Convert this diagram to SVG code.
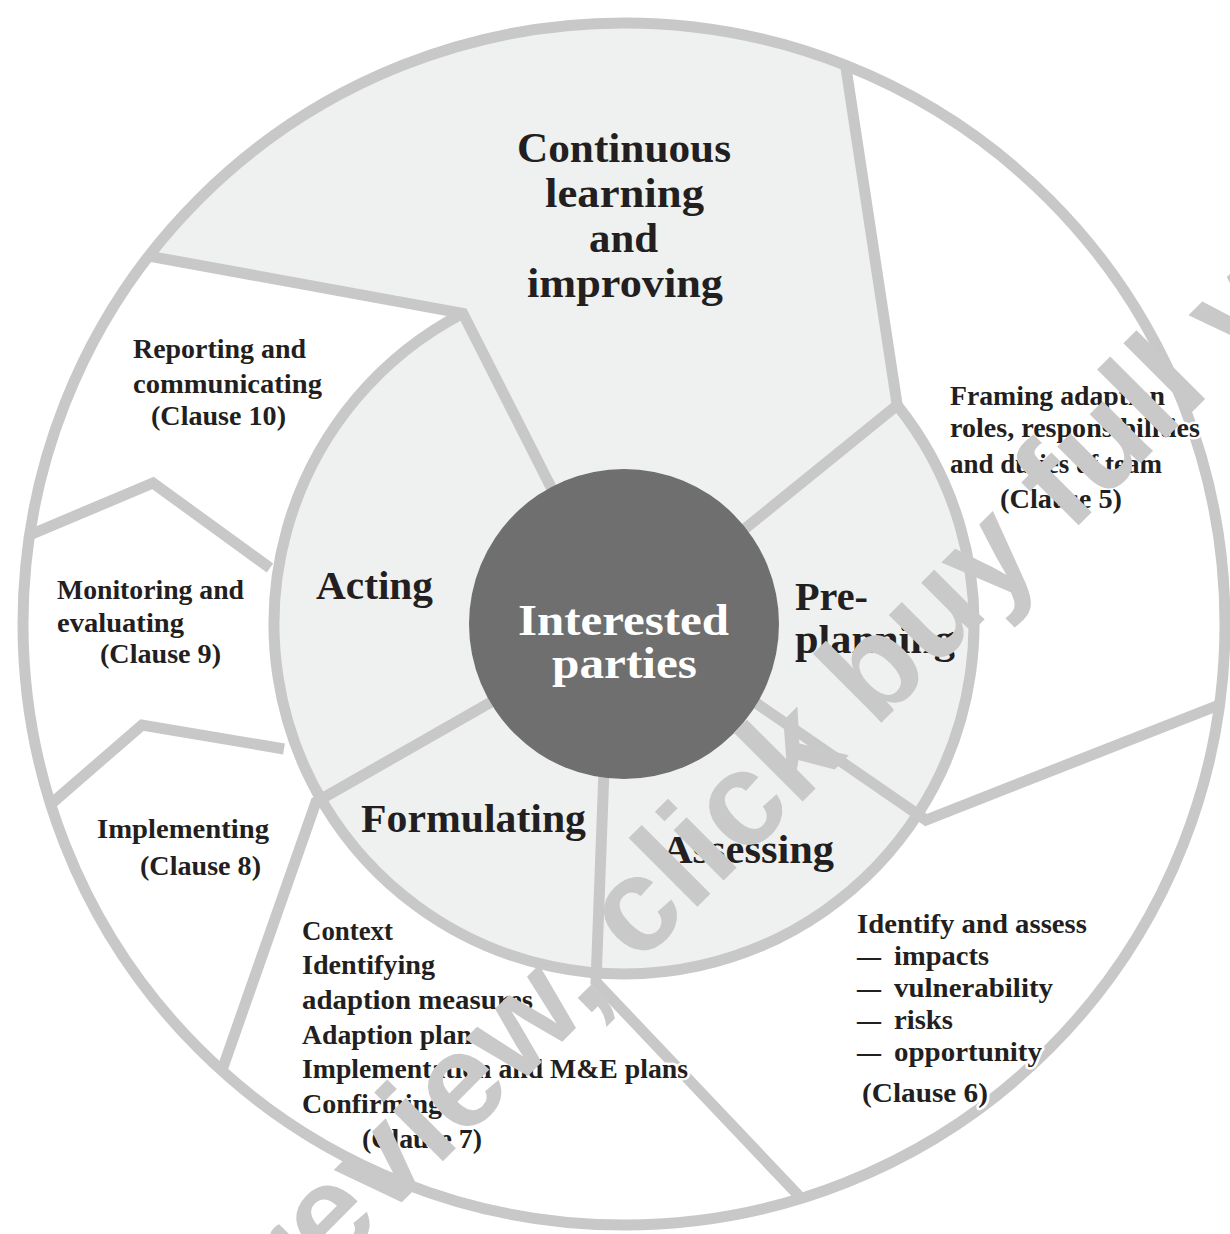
<svg xmlns="http://www.w3.org/2000/svg" width="1230" height="1234" viewBox="0 0 1230 1234">
  <defs>
    <style>
      .ln { fill: none; stroke: #c8c8c8; stroke-width: 11; stroke-linejoin: miter; }
      .fillL { fill: #eff1f0; }
      .big { font-family: "Liberation Serif", "Times New Roman", serif; font-weight: bold; fill: #231f20; }
      .wh { fill: #ffffff; }
      .sm { font-family: "Liberation Serif", "Times New Roman", serif; font-weight: bold; font-size: 27px; fill: #231f20; stroke: #ffffff; stroke-width: 5; stroke-linejoin: round; paint-order: stroke; }
      .wm { font-family: "Liberation Sans", Arial, sans-serif; font-weight: bold; font-size: 134px; fill: #c9c9c9; }
    </style>
  </defs>
  <rect x="0" y="0" width="1230" height="1234" fill="#ffffff"/>

  <!-- background fills -->
  <g id="fills">
    <path class="fillL" d="M462.8,313.3 L148.8,256.1 A601,601 0 0,1 845.6,65.4 L897.2,405.2 Z"/>
    <circle class="fillL" cx="624" cy="624" r="350"/>
  </g>

  <!-- connectors / dividers -->
  <g id="connectors">
    <path class="ln" d="M897.2,405.2 A350,350 0 1,1 462.8,313.3"/>
    <polyline class="ln" points="148.8,256.1 462.8,313.3 560,505"/>
    <polyline class="ln" points="845.6,65.4 897.2,405.2 731,540"/>
    <polyline class="ln" points="1219,705 926,820 743,694"/>
    <polyline class="ln" points="800,1197 596,982 604,770"/>
    <polyline class="ln" points="221,1073 316,802 500,697"/>
    <polyline class="ln" points="32,534 153,483 270,568"/>
    <polyline class="ln" points="51,804 142,725 284,749"/>
    <circle class="ln" cx="624" cy="624" r="601" stroke-width="12"/>
  </g>

  <g id="center">
    <circle cx="624" cy="624" r="155" fill="#6f6f6f"/>
    <text class="big wh" font-size="45" x="518" y="635" textLength="211" lengthAdjust="spacingAndGlyphs">Interested</text>
    <text class="big wh" font-size="45" x="552" y="678" textLength="145" lengthAdjust="spacingAndGlyphs">parties</text>
  </g>

  <g id="continuous">
    <text class="big" font-size="42" x="517" y="162" textLength="214" lengthAdjust="spacingAndGlyphs">Continuous</text>
    <text class="big" font-size="42" x="545" y="207" textLength="159" lengthAdjust="spacingAndGlyphs">learning</text>
    <text class="big" font-size="42" x="589" y="252" textLength="69" lengthAdjust="spacingAndGlyphs">and</text>
    <text class="big" font-size="42" x="527" y="297" textLength="196" lengthAdjust="spacingAndGlyphs">improving</text>
  </g>

  <g id="acting">
    <text class="big" font-size="39" x="316" y="599" textLength="117" lengthAdjust="spacingAndGlyphs">Acting</text>
  </g>
  <g id="preplanning">
    <text class="big" font-size="39" x="795" y="610" textLength="73" lengthAdjust="spacingAndGlyphs">Pre-</text>
    <text class="big" font-size="39" x="795" y="653" textLength="160" lengthAdjust="spacingAndGlyphs">planning</text>
  </g>
  <g id="formulating">
    <text class="big" font-size="39" x="361" y="832" textLength="225" lengthAdjust="spacingAndGlyphs">Formulating</text>
  </g>
  <g id="assessing">
    <text class="big" font-size="39" x="662" y="863" textLength="172" lengthAdjust="spacingAndGlyphs">Assessing</text>
  </g>

  <g id="reporting">
    <text class="sm" x="133" y="358" textLength="173" lengthAdjust="spacingAndGlyphs">Reporting and</text>
    <text class="sm" x="133" y="393" textLength="189" lengthAdjust="spacingAndGlyphs">communicating</text>
    <text class="sm" x="151" y="425" textLength="135" lengthAdjust="spacingAndGlyphs">(Clause 10)</text>
  </g>
  <g id="monitoring">
    <text class="sm" x="57" y="599" textLength="187" lengthAdjust="spacingAndGlyphs">Monitoring and</text>
    <text class="sm" x="57" y="632" textLength="127" lengthAdjust="spacingAndGlyphs">evaluating</text>
    <text class="sm" x="100" y="663" textLength="121" lengthAdjust="spacingAndGlyphs">(Clause 9)</text>
  </g>
  <g id="implementing">
    <text class="sm" x="97" y="838" textLength="172" lengthAdjust="spacingAndGlyphs">Implementing</text>
    <text class="sm" x="140" y="875" textLength="121" lengthAdjust="spacingAndGlyphs">(Clause 8)</text>
  </g>
  <g id="context">
    <text class="sm" x="302" y="940" textLength="91" lengthAdjust="spacingAndGlyphs">Context</text>
    <text class="sm" x="302" y="974" textLength="133" lengthAdjust="spacingAndGlyphs">Identifying</text>
    <text class="sm" x="302" y="1009" textLength="231" lengthAdjust="spacingAndGlyphs">adaption measures</text>
    <text class="sm" x="302" y="1044" textLength="170" lengthAdjust="spacingAndGlyphs">Adaption plan</text>
    <text class="sm" x="302" y="1078" textLength="386" lengthAdjust="spacingAndGlyphs">Implementation and M&amp;E plans</text>
    <text class="sm" x="302" y="1113" textLength="140" lengthAdjust="spacingAndGlyphs">Confirming</text>
    <text class="sm" x="362" y="1148" textLength="120" lengthAdjust="spacingAndGlyphs">(Clause 7)</text>
  </g>
  <g id="identify">
    <text class="sm" x="857" y="933" textLength="230" lengthAdjust="spacingAndGlyphs">Identify and assess</text>
    <text class="sm" x="857" y="965" textLength="24" lengthAdjust="spacingAndGlyphs">—</text>
    <text class="sm" x="894" y="965" textLength="95" lengthAdjust="spacingAndGlyphs">impacts</text>
    <text class="sm" x="857" y="997" textLength="24" lengthAdjust="spacingAndGlyphs">—</text>
    <text class="sm" x="894" y="997" textLength="159" lengthAdjust="spacingAndGlyphs">vulnerability</text>
    <text class="sm" x="857" y="1029" textLength="24" lengthAdjust="spacingAndGlyphs">—</text>
    <text class="sm" x="894" y="1029" textLength="59" lengthAdjust="spacingAndGlyphs">risks</text>
    <text class="sm" x="857" y="1061" textLength="24" lengthAdjust="spacingAndGlyphs">—</text>
    <text class="sm" x="894" y="1061" textLength="148" lengthAdjust="spacingAndGlyphs">opportunity</text>
    <text class="sm" x="862" y="1102" textLength="126" lengthAdjust="spacingAndGlyphs">(Clause 6)</text>
  </g>
  <g id="framing">
    <text class="sm" x="950" y="405" textLength="215" lengthAdjust="spacingAndGlyphs">Framing adaption</text>
    <text class="sm" x="950" y="437" textLength="250" lengthAdjust="spacingAndGlyphs">roles, responsibilities</text>
    <text class="sm" x="950" y="473" textLength="212" lengthAdjust="spacingAndGlyphs">and duties of team</text>
    <text class="sm" x="1000" y="508" textLength="122" lengthAdjust="spacingAndGlyphs">(Clause 5)</text>
  </g>

  <g id="watermark">
    <text class="wm" transform="translate(236,1368) rotate(-45)" x="0" y="0">preview, click buy full version</text>
  </g>
</svg>
